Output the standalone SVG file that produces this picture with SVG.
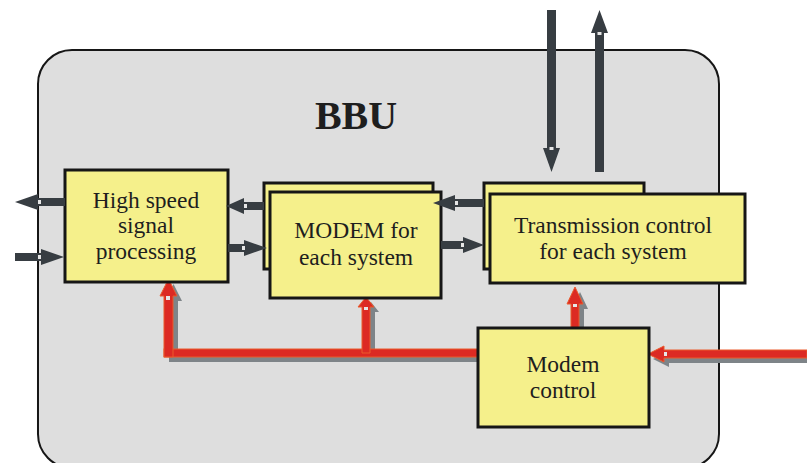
<svg xmlns="http://www.w3.org/2000/svg" width="807" height="463" viewBox="0 0 807 463">
<style>
.box{fill:#f5f08b;stroke:#161616;stroke-width:3}
.t{font-size:23.5px;fill:#1e1e1e;text-anchor:middle}
.dk{fill:#373d42}
.rd{fill:#dc2a23;stroke:#ea5a2c;stroke-width:1}
.sh{fill:#7e8488}
.wm{fill:#e6e6e6}
</style>
<rect x="0" y="0" width="807" height="463" fill="#ffffff"/>
<rect id="bbu" x="38" y="50" width="681" height="418" rx="34" ry="34" fill="#dedede" stroke="#161616" stroke-width="2"/>
<text x="356" y="129" font-family="'Liberation Serif', 'Times New Roman', serif" font-weight="bold" font-size="40" fill="#1e1e1e" text-anchor="middle">BBU</text>
<g id="connectors">
<g class="sh" transform="translate(5,5)">
<rect x="164" y="349" width="316" height="8"/>
<path d="M164,353 V296 H160 L168.5,279 L177,296 H173 V353 Z"/>
<path d="M362,353 V307 H358 L366,297 L374,307 H370 V353 Z"/>
<path d="M571,330 V304 H567 L575,287 L583,304 H579 V330 Z"/>
<path d="M807,350 H664 V346 L648,354 L664,362 V358 H807 Z"/>
</g>
<rect class="rd" x="164" y="349" width="316" height="8"/>
<path class="rd" d="M164,357 V296 H160 L168.5,279 L177,296 H173 V357 Z"/>
<path class="rd" d="M362,353 V307 H358 L366,297 L374,307 H370 V353 Z"/>
<path class="rd" d="M571,330 V304 H567 L575,287 L583,304 H579 V330 Z"/>
<path class="rd" d="M807,350 H664 V346 L648,354 L664,362 V358 H807 Z"/>
<rect class="wm" x="166" y="296" width="4" height="4"/>
<rect class="wm" x="364" y="307" width="4" height="3"/>
<rect class="wm" x="573" y="304" width="4" height="3"/>
<rect class="wm" x="664" y="352" width="3" height="4"/>
</g>
<g font-family="'Liberation Serif', 'Times New Roman', serif">
<g id="hs">
<rect class="box" x="65" y="170" width="163" height="112"/>
<text class="t" x="146" y="208">High speed</text>
<text class="t" x="146" y="233">signal</text>
<text class="t" x="146" y="259">processing</text>
</g>
<g id="modem">
<rect class="box" x="264" y="183" width="169" height="86"/>
<rect class="box" x="270" y="192" width="171" height="106"/>
<text class="t" x="356" y="238">MODEM for</text>
<text class="t" x="356" y="265">each system</text>
</g>
<g id="trans">
<rect class="box" x="484" y="183" width="160" height="86"/>
<rect class="box" x="490" y="194" width="255" height="89"/>
<text class="t" x="613" y="233">Transmission control</text>
<text class="t" x="613" y="259">for each system</text>
</g>
<g id="mc">
<rect class="box" x="478" y="328" width="171" height="99"/>
<text class="t" x="563" y="372">Modem</text>
<text class="t" x="563" y="398">control</text>
</g>
</g>
<g id="dark-connectors">
<path class="dk" d="M65,198 H38 V194 L15,202 L38,210 V206 H65 Z"/>
<rect class="wm" x="38" y="200" width="3" height="4"/>
<path class="dk" d="M15,253 H41 V249 L64,257 L41,265 V261 H15 Z"/>
<rect class="wm" x="38" y="255" width="3" height="4"/>
<path class="dk" d="M264,202 H244 V198 L226,206 L244,214 V210 H264 Z"/>
<rect class="wm" x="244" y="204" width="3" height="4"/>
<path class="dk" d="M228,244 H244 V240 L267,248 L244,256 V252 H228 Z"/>
<rect class="wm" x="242" y="246" width="3" height="4"/>
<path class="dk" d="M484,199 H455 V195 L433,203 L455,211 V207 H484 Z"/>
<rect class="wm" x="455" y="201" width="3" height="4"/>
<path class="dk" d="M441,241 H463 V237 L484,245 L463,253 V249 H441 Z"/>
<rect class="wm" x="461" y="243" width="3" height="4"/>
<path class="dk" d="M547,10 H556 V148 H560 L551.5,172 L543,148 H547 Z"/>
<rect class="wm" x="549.5" y="147" width="4" height="3"/>
<path class="dk" d="M595,172 H604 V33 H608 L599.5,10 L591,33 H595 Z"/>
<rect class="wm" x="597.5" y="32" width="4" height="3"/>
</g>
</svg>
